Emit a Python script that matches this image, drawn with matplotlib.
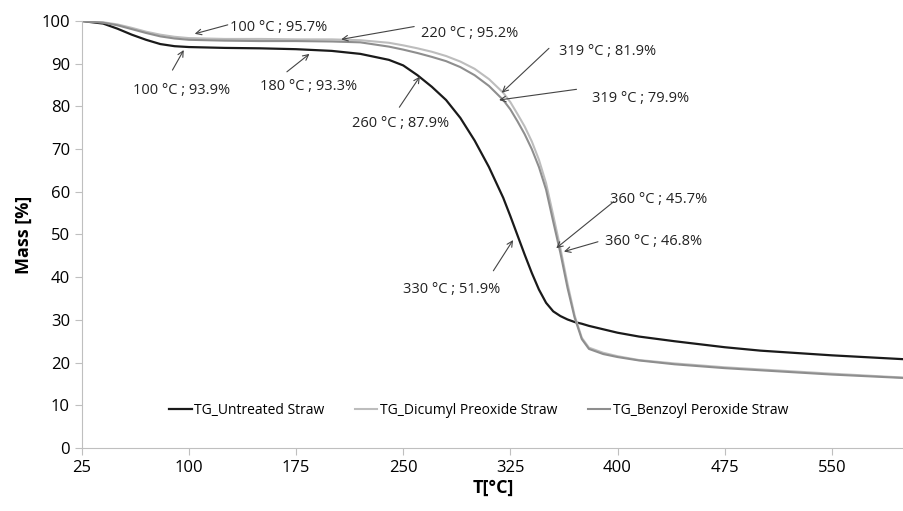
import matplotlib
matplotlib.use("Agg")
import matplotlib.pyplot as plt

plt.rcParams['font.family'] = ['Open Sans', 'DejaVu Sans']

# Temperatures [°C]
temp = [25, 40, 50, 60, 70, 80, 90, 100, 125, 150, 175, 200, 220, 240, 250, 260,
        270, 280, 290, 300, 310, 320, 325, 330, 335, 340, 345, 350, 355, 360, 365,
        370, 375, 380, 390, 400, 415, 440, 475, 500, 550, 600]

# Mass [%]
untreated = [100, 99.4, 98.2, 96.8, 95.6, 94.6, 94.1, 93.9, 93.7, 93.6, 93.4, 93.0,
             92.3, 90.9, 89.6, 87.3, 84.6, 81.5, 77.3, 72.0, 65.8, 58.6, 54.3, 49.8,
             45.3, 41.0, 37.1, 34.0, 32.0, 30.9, 30.1, 29.5, 29.1, 28.6, 27.8, 27.0,
             26.1, 25.0, 23.6, 22.8, 21.7, 20.8]
dicumyl = [100, 99.7, 99.2, 98.4, 97.5, 96.8, 96.3, 96.0, 95.8, 95.8, 95.7, 95.7,
           95.5, 94.9, 94.3, 93.6, 92.8, 91.8, 90.5, 88.8, 86.4, 83.2, 81.0, 78.2,
           75.3, 71.8, 67.5, 62.0, 54.5, 46.8, 38.5, 31.0, 25.8, 23.5, 22.3, 21.5,
           20.6, 19.8, 18.9, 18.4, 17.4, 16.5]
benzoyl = [100, 99.6, 99.0, 98.1, 97.2, 96.4, 95.9, 95.6, 95.4, 95.3, 95.3, 95.2,
           95.0, 94.0, 93.3, 92.5, 91.6, 90.6, 89.2, 87.3, 84.8, 81.5, 79.3, 76.5,
           73.5, 70.0, 65.8, 60.5, 53.0, 45.7, 37.5, 30.5, 25.5, 23.2, 22.0, 21.3,
           20.5, 19.6, 18.7, 18.2, 17.2, 16.4]

# annotations: label, text position, arrow tail, arrow tip
labels = ["100 °C ; 95.7%", "220 °C ; 95.2%", "319 °C ; 81.9%", "319 °C ; 79.9%",
          "100 °C ; 93.9%", "180 °C ; 93.3%", "260 °C ; 87.9%", "330 °C ; 51.9%",
          "360 °C ; 45.7%", "360 °C ; 46.8%"]
text_pos = [(128.6, 98.4), (262.4, 97.1), (359.1, 92.8), (382.3, 81.9),
            (61.0, 83.7), (149.5, 84.6), (214.0, 75.9), (249.6, 37.2),
            (394.4, 58.3), (391.1, 48.3)]
tails = [(127.2, 99.1), (257.7, 98.7), (352.0, 93.6), (371.3, 84.0),
         (88.5, 88.5), (168.6, 88.1), (247.3, 79.8), (313.1, 41.5),
         (397.4, 57.7), (386.3, 48.3)]
tips = [(104.1, 97.0), (206.6, 95.7), (319.0, 83.2), (317.1, 81.5),
        (96.4, 93.2), (184.4, 92.3), (261.7, 87.0), (326.9, 48.7),
        (357.1, 46.8), (362.5, 46.0)]

fig = plt.figure(figsize=(9.04, 5.11), dpi=100)
ax = fig.add_axes([0.0904, 0.1233, 0.9096, 0.8356])

ax.plot(temp, untreated, color='#1a1a1a', lw=1.6, label='TG_Untreated Straw')
ax.plot(temp, dicumyl, color='#bdbdbd', lw=1.5, label='TG_Dicumyl Preoxide Straw')
ax.plot(temp, benzoyl, color='#8e8e8e', lw=1.5, label='TG_Benzoyl Peroxide Straw')

for lab, tp, tl, tip in zip(labels, text_pos, tails, tips):
    ax.text(tp[0], tp[1], lab, fontsize=10.5, va='center', ha='left', color='#222222')
    ax.annotate('', xy=tip, xytext=tl,
                arrowprops=dict(arrowstyle='->', color='#444444', lw=0.8,
                                shrinkA=0, shrinkB=0))

ax.set_xlim(25, 600.5)
ax.set_ylim(0, 100)
ax.set_xticks([25, 100, 175, 250, 325, 400, 475, 550])
ax.set_yticks(range(0, 101, 10))
ax.tick_params(labelsize=12, color='#bfbfbf', length=5)
for s in ['top', 'right']:
    ax.spines[s].set_visible(False)
for s in ['left', 'bottom']:
    ax.spines[s].set_color('#bfbfbf')

ax.set_xlabel('T[°C]', fontsize=13, fontweight='bold', labelpad=2)
ax.set_ylabel('Mass [%]', fontsize=13, fontweight='bold', labelpad=6)

ax.legend(loc='center', bbox_to_anchor=(0.483, 0.087), ncol=3, frameon=False,
          fontsize=10, handlelength=1.6, handletextpad=0.2, columnspacing=2.2)

fig.savefig('out.png', dpi=100)
